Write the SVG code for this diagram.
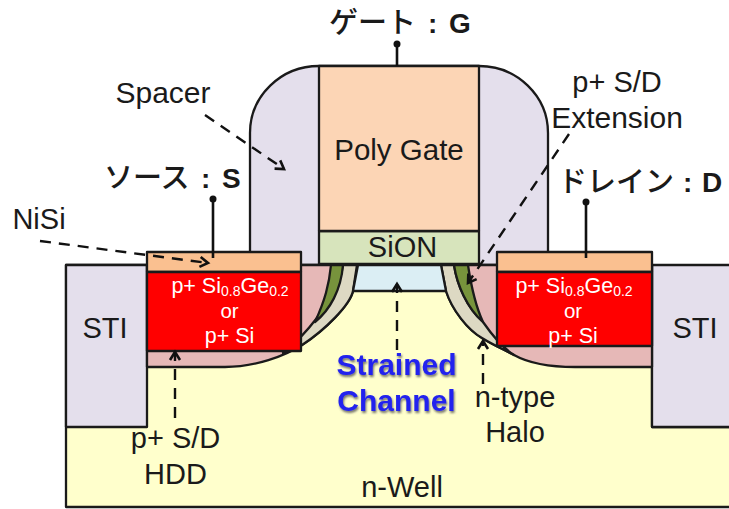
<svg xmlns="http://www.w3.org/2000/svg" width="729" height="509" viewBox="0 0 729 509">
<style>
.o{stroke:#1a1a1a;stroke-width:2.3;stroke-linejoin:round}
text{font-family:"Liberation Sans",Arial,"Noto Sans CJK JP",sans-serif;fill:#1a1a1a;font-size:29px;text-anchor:middle}
.w{fill:#fff;font-size:21.5px}
.r{fill:#fff;font-size:20.5px}
.j{font-weight:500;font-family:"Noto Sans CJK JP","Liberation Sans",sans-serif;text-anchor:start}
.b{font-family:"Liberation Sans",Arial,sans-serif;font-weight:700;font-size:28px}
.c{fill:#2020ee;font-weight:700;font-size:30px}
.d{fill:none;stroke:#111;stroke-width:2.4;stroke-dasharray:11 8;marker-end:url(#a)}
.l{fill:none;stroke:#111;stroke-width:2.6}
</style>
<defs>
<marker id="a" markerUnits="userSpaceOnUse" markerWidth="16" markerHeight="16" refX="12" refY="8" orient="auto"><path d="M4 3L12 8L4 13" fill="none" stroke="#111" stroke-width="2.6"/></marker>
<filter id="s" x="-10%" y="-20%" width="120%" height="150%"><feDropShadow dx="1" dy="2" stdDeviation="1.2" flood-color="#555" flood-opacity="0.8"/></filter>
</defs>
<rect width="729" height="509" fill="#fff"/>
<g id="well"><path class="o" fill="#ffffcc" d="M66 427V265H652V427H731V507H66Z"/><text x="402" y="497">n-Well</text></g>
<g id="sti-left"><rect class="o" x="66" y="265" width="81" height="162" fill="#e4dfec"/><text x="105" y="338">STI</text></g>
<g id="sti-right"><path class="o" d="M652 265H731V427H652Z" fill="#e4dfec"/><text x="695" y="338">STI</text></g>
<g id="spacer"><path class="o" fill="#e4dfec" d="M319 66A69 67 0 0 0 250 133V265H548V133A69 67 0 0 0 479 66Z"/></g>
<g id="hdd-left"><path class="o" fill="#e6b8b7" d="M147 265H357L353 291C350 305 325 330 302 345C285 356 255 367 225 367H147Z"/></g>
<g id="hdd-right"><path class="o" fill="#e6b8b7" d="M652 265H441L446 291C452 310 468 330 482 338C495 346 505 350 514 355C530 364 550 367 575 367H652Z"/></g>
<g id="ext-left"><path class="o" fill="#ddd9c3" d="M343 265H357L353 291C350 305 325 330 302 345C295 350 288 351 283 353C300 340 338 300 343 265Z"/><path class="o" fill="#77933c" d="M331 265H343C341 290 330 310 315 322C325 300 329 285 331 265Z"/></g>
<g id="ext-right"><path class="o" fill="#ddd9c3" d="M441 265H454C457 285 467 308 483 322C492 335 503 348 514 355C505 350 495 346 482 338C468 330 452 310 446 291Z"/><path class="o" fill="#77933c" d="M454 265H468C471 285 475 305 483 322C467 308 457 285 454 265Z"/></g>
<g id="channel"><path class="o" fill="#dbeef4" d="M358 265H441L446 291H353Z"/></g>
<g id="sion"><rect class="o" x="319" y="231" width="160" height="33" fill="#d7e4bc"/><text x="402.500" y="257">SiON</text></g>
<g id="gate"><rect class="o" x="319" y="66" width="160" height="165" fill="#fcd5b5"/><text x="399" y="160" style="font-size:29.500px">Poly Gate</text></g>
<g id="source"><rect class="o" x="147" y="252" width="154" height="20" fill="#fac090"/><rect class="o" x="147" y="272" width="154" height="79" fill="#ff0000"/>
<text class="w" x="230" y="293">p+ Si<tspan font-size="14" dy="3">0.8</tspan><tspan dy="-3">Ge</tspan><tspan font-size="14" dy="3">0.2</tspan></text><text class="r" x="229.500" y="318">or</text><text class="w" x="229.500" y="343">p+ Si</text></g>
<g id="drain"><rect class="o" x="497" y="252" width="155" height="20" fill="#fac090"/><rect class="o" x="497" y="272" width="155" height="74" fill="#ff0000"/>
<text class="w" x="574" y="293">p+ Si<tspan font-size="14" dy="3">0.8</tspan><tspan dy="-3">Ge</tspan><tspan font-size="14" dy="3">0.2</tspan></text><text class="r" x="573" y="318">or</text><text class="w" x="573" y="343">p+ Si</text></g>
<g id="connectors">
<path class="l" d="M397 66V44M213 258V199M586 258V202"/>
<circle cx="397" cy="44" r="3.500" fill="#111"/><circle cx="213" cy="199" r="3.500" fill="#111"/><circle cx="586" cy="202" r="3.500" fill="#111"/>
<path class="d" d="M205 115L284 169"/><path class="d" d="M40 241L208 263"/><path class="d" d="M569 134L468 283"/>
<path class="d" d="M397 350V284"/><path class="d" d="M175 418V352"/><path class="d" d="M483 384V341"/>
</g>
<g id="labels">
<text class="j" x="329" y="33">ゲート<tspan class="b" x="428">:</tspan><tspan class="b" x="449">G</tspan></text>
<text class="j" x="104" y="188">ソース<tspan class="b" x="201">:</tspan><tspan class="b" x="222">S</tspan></text>
<text class="j" x="558" y="192">ドレイン<tspan class="b" x="683">:</tspan><tspan class="b" x="702">D</tspan></text>
<text x="163" y="103" style="font-size:30px">Spacer</text><text x="39" y="229">NiSi</text>
<text x="617" y="92">p+ S/D</text><text x="617" y="128" style="font-size:30px">Extension</text>
<text x="175.500" y="448">p+ S/D</text><text x="175.500" y="484">HDD</text>
<text x="515" y="407">n-type</text><text x="515" y="442">Halo</text>
<g filter="url(#s)"><text class="c" x="396.500" y="375">Strained</text><text class="c" x="396.500" y="411">Channel</text></g>
</g>
</svg>
